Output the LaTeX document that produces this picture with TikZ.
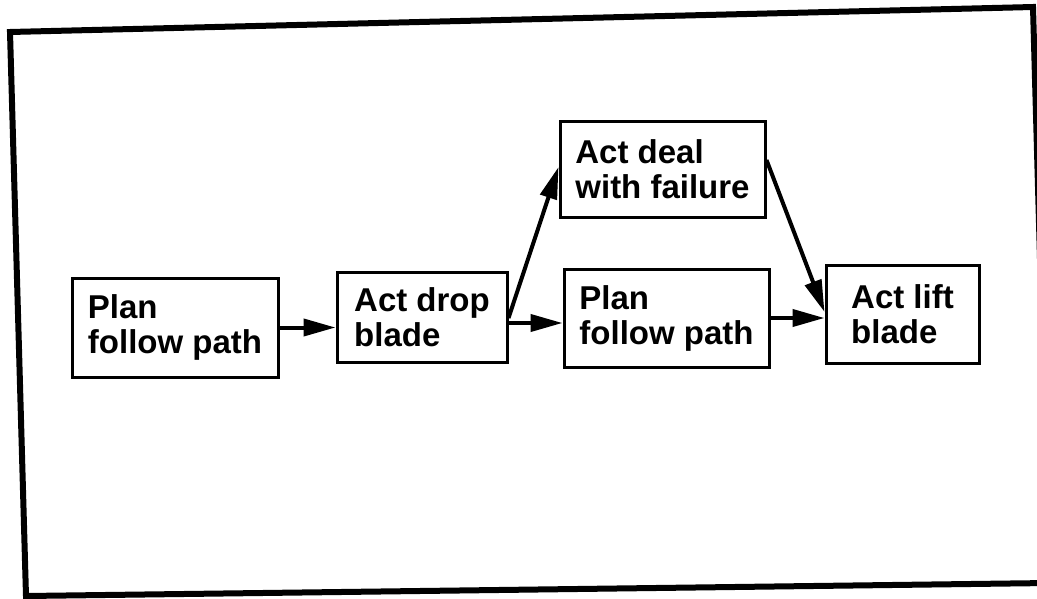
\documentclass[tikz,border=0pt]{standalone}
\usepackage{fontspec}
\setmainfont{Liberation Sans}
\usetikzlibrary{arrows.meta}
\begin{document}
\begin{tikzpicture}[x=1pt,y=-1pt,
  box/.style={draw, line width=3pt, align=left, inner sep=0pt,
    font=\fontsize{33}{35}\selectfont\bfseries},
  arr/.style={line width=4pt, -{Triangle[length=32pt,width=17pt]}}]
\useasboundingbox (0,0) rectangle (1037,598);
\begin{scope}
\clip (0,0) rectangle (1037,598);
\draw[line width=6pt, line join=miter] (10,32) -- (1033,7) -- (1049,583) -- (26,596) -- cycle;
\end{scope}
\node[box, minimum width=206pt, minimum height=99pt] (b1) at (175,327.5) {Plan\\follow path};
\node[box, minimum width=170pt, minimum height=90pt] (b2) at (422,317) {Act drop\\blade};
\node[box, minimum width=205pt, minimum height=96pt] (b3) at (662.5,169) {Act deal\\with failure};
\node[box, minimum width=205pt, minimum height=98pt] (b4) at (666.5,318) {Plan\\follow path};
\node[box, minimum width=153pt, minimum height=98pt] (b5) at (902.5,314) {Act lift\\blade};
\draw[arr] (b1.east) -- (b2.west |- b1.east);
\draw[arr] (b2.east |- 0,323) -- (b4.west |- 0,323);
\draw[arr] (b2.east |- 0,318) -- (b3.west |- 0,167);
\draw[arr] (b4.east |- 0,318) -- (b5.west |- 0,318);
\draw[arr] (b3.east |- 0,160) -- (b5.west |- 0,312);
\end{tikzpicture}
\end{document}
